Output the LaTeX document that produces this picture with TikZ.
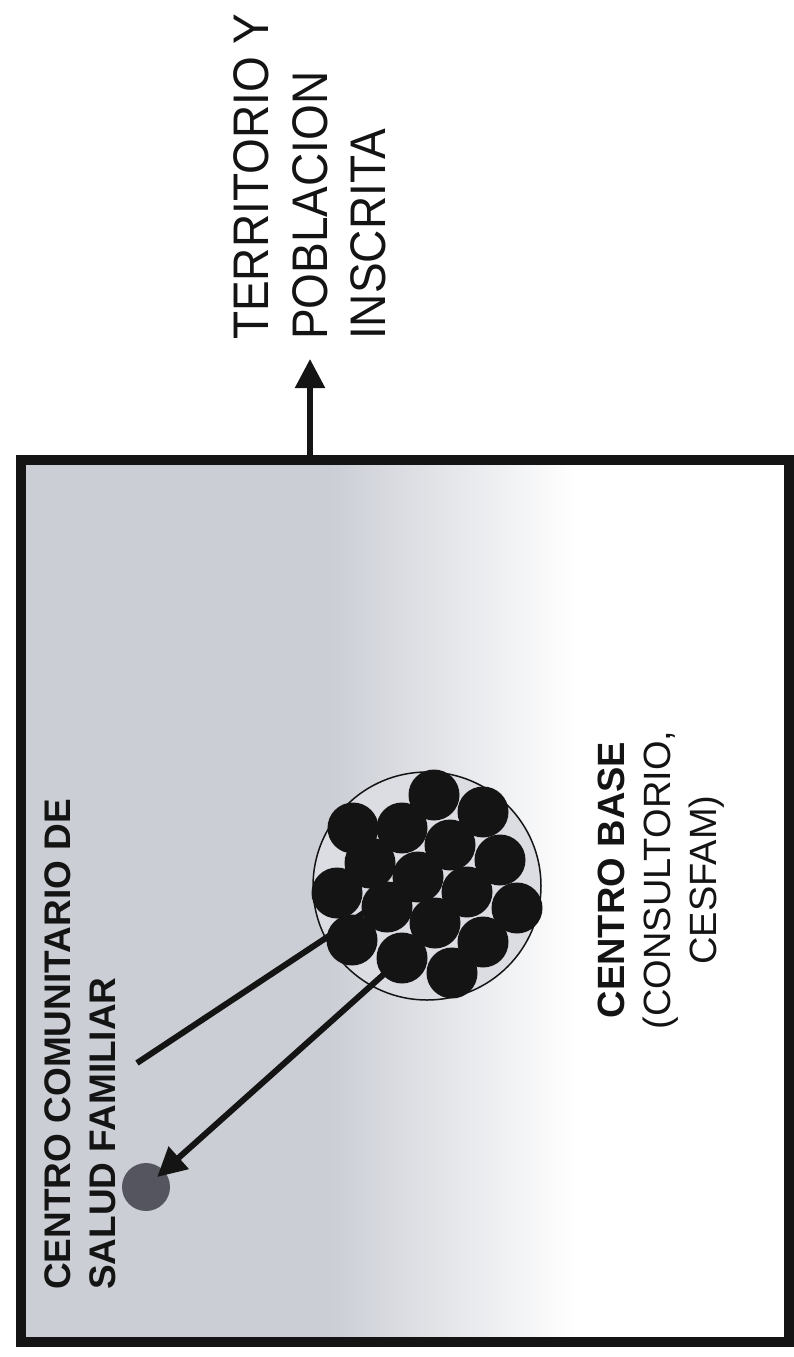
\documentclass[tikz,border=0pt]{standalone}
\usepackage{fontspec}
\setmainfont{Liberation Sans}
\newfontfamily\narrowsans[FakeStretch=0.92]{Liberation Sans}
\usepackage{tikz}
\usetikzlibrary{arrows.meta, positioning, shapes.geometric}

\definecolor{bgGray}{RGB}{203,206,213}
\definecolor{dotGray}{RGB}{85,85,95}
\definecolor{ink}{RGB}{20,20,20}

\tikzset{
  frame/.style={rectangle, draw=ink, line width=10pt, minimum width=768pt,
                minimum height=882pt, inner sep=0pt},
  ring/.style={circle, draw=ink, line width=1.5pt, fill=bgGray!70!white,
               minimum size=228pt, inner sep=0pt},
  cell/.style={circle, fill=ink, minimum size=51pt, inner sep=0pt},
  dot/.style={circle, fill=dotGray, minimum size=48pt, inner sep=0pt},
  arrow/.style={-{Triangle[length=29pt, width=29pt]}, draw=ink, line width=5.5pt},
  stroke/.style={draw=ink, line width=6pt},
  lbl/.style={rotate=90, inner sep=0pt, text=ink, font=\fontsize{38}{46}\selectfont},
}

\begin{document}
\begin{tikzpicture}[x=1pt, y=-1pt]
  \useasboundingbox (0,0) rectangle (794,1357);

  % Background
  \fill[bgGray] (26,465) rectangle (330,1337);
  \shade[left color=bgGray, right color=white] (330,465) rectangle (575,1337);

  % Territory frame
  \node[frame] (terr) at (405,901) {};
  \node[lbl, anchor=west, align=left, font=\narrowsans\fontsize{50}{58.5}\selectfont]
    (terrlbl) at (310,340) {TERRITORIO Y\\POBLACION\\INSCRITA};
  \draw[arrow, shorten >=19pt] (terr.north -| terrlbl.west) -- (terrlbl.west);

  % Centro base
  \node[ring] (base) at (427,886) {};
  \foreach \x/\y [count=\i] in {434/795, 483/812, 353/828, 402/828, 450/845,
      370/863, 500/860, 418/877, 337/893, 467/892, 387/907, 517/908,
      435/923, 352/940, 483/942, 402/958, 452/973}
    \node[cell] (c\i) at (\x,\y) {};
  \node[lbl, anchor=north, align=center] (baselbl) at (598,880)
    {\textbf{CENTRO BASE}\\(CONSULTORIO,\\CESFAM)};

  % Centro comunitario
  \node[dot] (ccsf) at (146,1187) {};
  \coordinate (tail) at (137,1063);
  \node[lbl, anchor=west, align=left, font=\bfseries\fontsize{37}{45}\selectfont]
    (ccsflbl) at (80,1290) {CENTRO COMUNITARIO DE\\SALUD FAMILIAR};

  % Edges
  \draw[stroke] (c8.center) -- (tail);
  \draw[arrow, line width=6pt, shorten >=15pt] (c16.center) -- (ccsf.center);

\end{tikzpicture}
\end{document}
